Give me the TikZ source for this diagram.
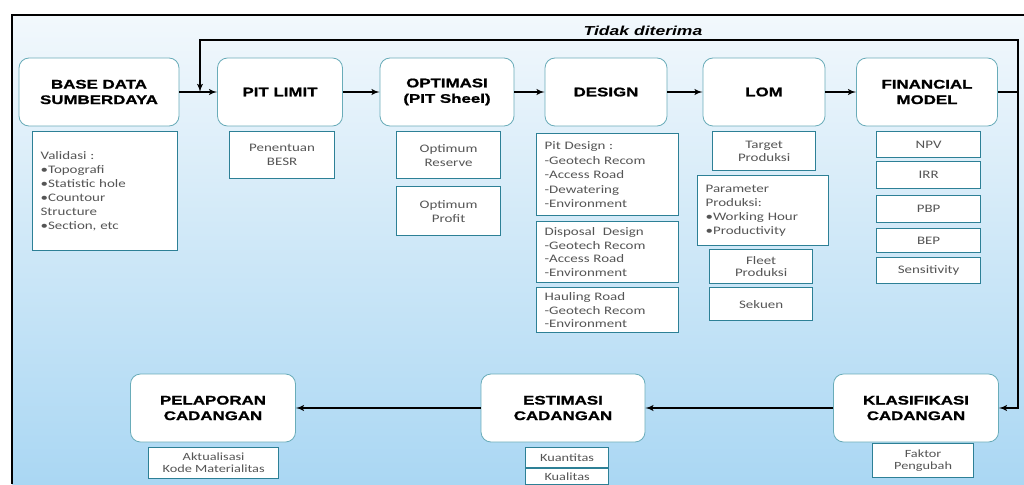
\documentclass[tikz,border=0pt]{standalone}
\usepackage{fontspec}
\setmainfont{Liberation Sans}
\newfontfamily\headfont[FakeStretch=1.35, BoldFeatures={FakeBold=1.2}]{Liberation Sans}
\newfontfamily\subfont[FakeStretch=1.3]{Carlito}
\usetikzlibrary{calc, arrows}
\definecolor{stageline}{RGB}{105,172,185}
\definecolor{itemline}{RGB}{45,128,150}
\definecolor{itemtext}{RGB}{85,85,85}
\definecolor{bgtop}{RGB}{242,248,252}
\definecolor{bgmid}{RGB}{212,234,248}
\definecolor{bgbot}{RGB}{170,215,243}
\tikzstyle{stage}=[draw=stageline, fill=white, rounded corners=10pt, line width=0.8pt,
minimum height=68pt, align=center, font=\headfont\bfseries\fontsize{12.5}{15.5}\selectfont]
\tikzstyle{item}=[draw=itemline, fill=white, line width=1.2pt, align=center, inner sep=2pt,
anchor=north west, text=itemtext, font=\subfont\fontsize{11.5}{14}\selectfont]
\tikzstyle{list}=[item, align=left, inner xsep=8pt]
\tikzstyle{flow}=[line width=1.8pt, ->]

\begin{document}
\begin{tikzpicture}[x=1pt,y=-1pt,>=latex']
      \useasboundingbox (0,0) rectangle (1024,484);
      \shade[top color=bgtop, middle color=bgmid, bottom color=bgbot] (12,15) rectangle (1024,484);
      \draw[line width=2pt] (12,484) -- (12,15) -- (1024,15);
      % top row
      \node [stage, minimum width=160pt] (base) at (99,92) {BASE DATA\\SUMBERDAYA};
      \node [stage, minimum width=125pt] (pitlimit) at (280,92) {PIT LIMIT};
      \node [stage, minimum width=134pt] (optimasi) at (447,92) {OPTIMASI\\(PIT Sheel)};
      \node [stage, minimum width=122pt] (design) at (606,92) {DESIGN};
      \node [stage, minimum width=122pt] (lom) at (764,92) {LOM};
      \node [stage, minimum width=141pt] (financial) at (927,92) {FINANCIAL\\MODEL};
      % bottom row
      \node [stage, minimum width=165pt] (pelaporan) at (213,408) {PELAPORAN\\CADANGAN};
      \node [stage, minimum width=164pt] (estimasi) at (563,408) {ESTIMASI\\CADANGAN};
      \node [stage, minimum width=165pt] (klasifikasi) at (916,408) {KLASIFIKASI\\CADANGAN};
      % details
      \node [list, text width=129pt, minimum height=119pt] (validasi) at (32,131)
        {Validasi :\\•Topografi\\•Statistic hole\\•Countour\\Structure\\•Section, etc};
      \node [item, minimum width=105pt, minimum height=47pt] (besr) at (229,131) {Penentuan\\BESR};
      \node [item, minimum width=104pt, minimum height=47pt] (reserve) at (396,131) {Optimum\\Reserve};
      \node [item, minimum width=104pt, minimum height=49pt] (profit) at (396,186) {Optimum\\Profit};
      \node [list, text width=126pt, minimum height=82pt, font=\subfont\fontsize{11.5}{14.5}\selectfont] (pitdesign) at (536,133)
        {Pit Design :\\-Geotech Recom\\-Access Road\\-Dewatering\\-Environment};
      \node [list, text width=126pt, minimum height=61pt, font=\subfont\fontsize{11.5}{13.5}\selectfont] (disposal) at (536,221)
        {Disposal\ \ Design\\-Geotech Recom\\-Access Road\\-Environment};
      \node [list, text width=126pt, minimum height=45pt, font=\subfont\fontsize{11.5}{13.5}\selectfont] (hauling) at (536,287)
        {Hauling Road\\-Geotech Recom\\-Environment};
      \node [item, minimum width=103pt, minimum height=39pt, font=\subfont\fontsize{11.5}{13}\selectfont] (target) at (712,131) {Target\\Produksi};
      \node [list, text width=115pt, minimum height=70pt] (parameter) at (697,175)
        {Parameter\\Produksi:\\•Working Hour\\•Productivity};
      \node [item, minimum width=103pt, minimum height=34pt, font=\subfont\fontsize{11.5}{12.5}\selectfont] (fleet) at (709,249) {Fleet\\Produksi};
      \node [item, minimum width=103pt, minimum height=33pt] (sekuen) at (709,287) {Sekuen};
      \node [item, minimum width=104pt, minimum height=26pt] (npv) at (876,131) {NPV};
      \node [item, minimum width=104pt, minimum height=27pt] (irr) at (876,161) {IRR};
      \node [item, minimum width=104pt, minimum height=27pt] (pbp) at (876,195) {PBP};
      \node [item, minimum width=104pt, minimum height=24pt] (bep) at (876,228) {BEP};
      \node [item, minimum width=104pt, minimum height=26pt] (sensitivity) at (876,257) {Sensitivity};
      \node [item, minimum width=130pt, minimum height=31pt, font=\subfont\fontsize{11}{12}\selectfont] (aktualisasi) at (148,447) {Aktualisasi\\Kode Materialitas};
      \node [item, minimum width=83pt, minimum height=20pt, inner sep=1pt, font=\subfont\fontsize{11}{12}\selectfont] (kuantitas) at (525,447) {Kuantitas};
      \node [item, minimum width=83pt, minimum height=16pt, inner sep=0pt, font=\subfont\fontsize{11}{12}\selectfont] (kualitas) at (525,468) {Kualitas};
      \node [item, minimum width=101pt, minimum height=34pt, font=\subfont\fontsize{11}{12.5}\selectfont] (faktor) at (872,443) {Faktor\\Pengubah};
      % connectors
      \coordinate (turn) at (1018,92);
      \coordinate (upright) at (1018,40);
      \coordinate (upleft) at (200,40);
      \coordinate (join) at (200,92);
      \draw[flow] (base) -- (pitlimit);
      \draw[flow] (pitlimit) -- (optimasi);
      \draw[flow] (optimasi) -- (design);
      \draw[flow] (design) -- (lom);
      \draw[flow] (lom) -- (financial);
      \draw[line width=1.8pt] (financial) -- (turn);
      \draw[flow] (turn) -- (upright) -- (upleft) -- (join);
      \draw[flow] (turn) |- (klasifikasi.east);
      \draw[flow] (klasifikasi) -- (estimasi);
      \draw[flow] (estimasi) -- (pelaporan);
      \node [font=\headfont\bfseries\itshape\fontsize{13}{15}\selectfont] (tidak) at (643,31) {Tidak diterima};
  \end{tikzpicture}
\end{document}
